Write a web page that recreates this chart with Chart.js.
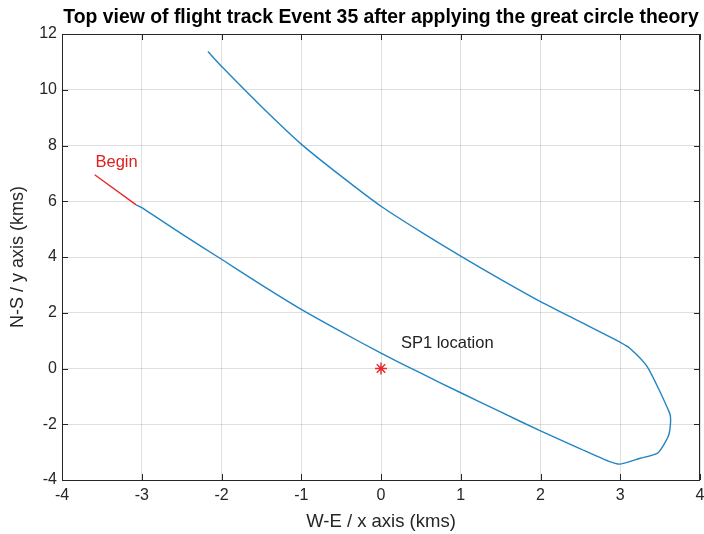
<!DOCTYPE html>
<html>
<head>
<meta charset="utf-8">
<script src="https://cdn.jsdelivr.net/npm/chart.js@4.4.1/dist/chart.umd.min.js"></script>
<style>
  html, body { margin: 0; padding: 0; background: #ffffff; }
  #wrap { width: 704px; height: 534px; }
</style>
</head>
<body>
<div id="wrap"><canvas id="c" width="704" height="534"></canvas></div>
<script>
// Tick labels
const xTicks = [-4, -3, -2, -1, 0, 1, 2, 3, 4];
const yTicks = [-4, -2, 0, 2, 4, 6, 8, 10, 12];

// First part of the track (drawn in red)
const beginX = [-3.59, -3.07];
const beginY = [6.95, 5.87];

// Remainder of the flight track (km)
const trackX = [-3.07, -3.0, -2.5, -2.0, -1.5, -1.0, -0.5, 0.0, 0.5, 1.0, 1.5, 2.0, 2.5, 2.85, 3.0,
                3.24, 3.47, 3.60, 3.63, 3.62, 3.34, 3.12, 3.0, 2.5, 2.0, 1.5, 1.0, 0.5, 0.0,
                -0.5, -1.0, -1.5, -2.0, -2.17];
const trackY = [5.87, 5.77, 4.83, 3.92, 3.0, 2.12, 1.32, 0.55, -0.17, -0.87, -1.56, -2.24, -2.88, -3.32, -3.43,
                -3.23, -3.03, -2.45, -1.97, -1.61, 0.06, 0.73, 0.94, 1.67, 2.4, 3.2, 4.03, 4.9, 5.82,
                6.9, 8.05, 9.4, 10.84, 11.37];

// Station SP1
const sp1X = [0];
const sp1Y = [0];

const TITLE = 'Top view of flight track Event 35 after applying the great circle theory';

const toPoints = (xs, ys) => xs.map((x, i) => ({ x: x, y: ys[i] }));

const FONT = "'Liberation Sans', Arial, Helvetica, sans-serif";
const AXIS_COLOR = '#262626';

// Title over the axes, box, inward tick marks and text annotations
const framePlugin = {
  id: 'frame',
  afterDatasetsDraw(chart) {
    const { ctx, chartArea: a, scales } = chart;
    const xs = scales.x, ys = scales.y;
    const tl = 6;
    ctx.save();
    ctx.strokeStyle = AXIS_COLOR;
    ctx.lineWidth = 1;
    ctx.beginPath();
    xTicks.forEach(v => {
      const px = Math.round(xs.getPixelForValue(v)) + 0.5;
      ctx.moveTo(px, a.bottom); ctx.lineTo(px, a.bottom - tl);
      ctx.moveTo(px, a.top); ctx.lineTo(px, a.top + tl);
    });
    yTicks.forEach(v => {
      const py = Math.round(ys.getPixelForValue(v)) + 0.5;
      ctx.moveTo(a.left, py); ctx.lineTo(a.left + tl, py);
      ctx.moveTo(a.right, py); ctx.lineTo(a.right - tl, py);
    });
    ctx.stroke();
    ctx.strokeRect(Math.round(a.left) + 0.5, Math.round(a.top) + 0.5,
                   Math.round(a.right - a.left) - 1, Math.round(a.bottom - a.top));

    ctx.font = 'bold 19.4px ' + FONT;
    ctx.fillStyle = '#000000';
    ctx.textAlign = 'center';
    ctx.textBaseline = 'middle';
    ctx.fillText(TITLE, (a.left + a.right) / 2, a.top - 16.5);

    ctx.font = '16.5px ' + FONT;
    ctx.textAlign = 'left';
    ctx.fillStyle = '#e02020';
    ctx.fillText('Begin', xs.getPixelForValue(-3.58), ys.getPixelForValue(7.38));
    ctx.fillStyle = '#222222';
    ctx.fillText('SP1 location', xs.getPixelForValue(0.25), ys.getPixelForValue(0.9));
    ctx.restore();
  }
};

new Chart(document.getElementById('c'), {
  type: 'scatter',
  data: {
    datasets: [
      {
        data: toPoints(beginX, beginY),
        showLine: true,
        borderColor: '#e8282a',
        borderWidth: 1.4,
        pointRadius: 0,
        fill: false
      },
      {
        data: toPoints(trackX, trackY),
        showLine: true,
        borderColor: '#2185c3',
        borderWidth: 1.4,
        pointRadius: 0,
        tension: 0.2,
        fill: false
      },
      {
        data: toPoints(sp1X, sp1Y),
        showLine: false,
        pointStyle: 'star',
        pointRadius: 6,
        borderColor: '#e8282a',
        borderWidth: 1.4
      }
    ]
  },
  options: {
    responsive: false,
    animation: false,
    layout: { autoPadding: false, padding: { top: 34, right: 4, bottom: 0, left: 0 } },
    plugins: {
      legend: { display: false },
      tooltip: { enabled: false },
      title: { display: false }
    },
    scales: {
      x: {
        type: 'linear',
        min: -4, max: 4,
        afterBuildTicks: s => { s.ticks = xTicks.map(v => ({ value: v })); },
        afterFit: s => { s.height = 54; s.paddingLeft = 0; s.paddingRight = 0; },
        ticks: { color: AXIS_COLOR, padding: 6, font: { family: FONT, size: 16 } },
        grid: { color: 'rgba(38,38,38,0.15)', drawTicks: false },
        border: { display: false },
        title: {
          display: true,
          text: 'W-E / x axis (kms)',
          color: AXIS_COLOR,
          font: { family: FONT, size: 18.5 },
          padding: { top: 0, bottom: 1 }
        }
      },
      y: {
        type: 'linear',
        min: -4, max: 12,
        afterBuildTicks: s => { s.ticks = yTicks.map(v => ({ value: v })); },
        afterFit: s => { s.width = 62; s.paddingTop = 0; s.paddingBottom = 0; },
        ticks: { color: AXIS_COLOR, padding: 5, font: { family: FONT, size: 16 } },
        grid: { color: 'rgba(38,38,38,0.15)', drawTicks: false },
        border: { display: false },
        title: {
          display: true,
          text: 'N-S / y axis (kms)',
          color: AXIS_COLOR,
          font: { family: FONT, size: 18 },
          padding: { top: 7, bottom: 0 }
        }
      }
    }
  },
  plugins: [framePlugin]
});
</script>
</body>
</html>
